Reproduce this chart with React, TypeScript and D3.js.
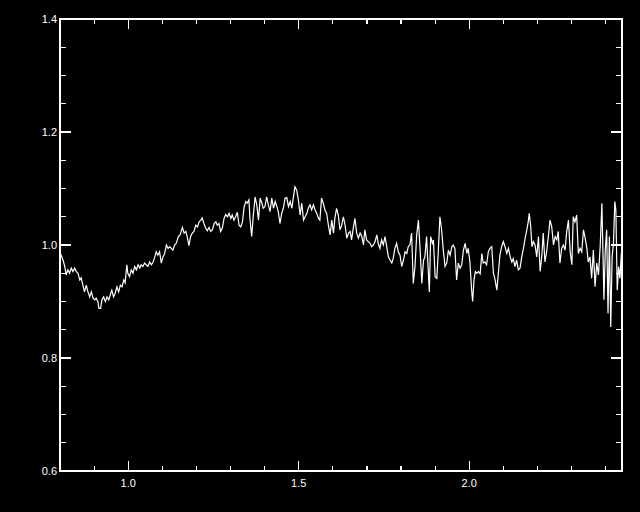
import React from 'react'
import * as d3 from 'd3'

// wavelength (x) and normalised flux (y)
const wave = [
	0.802, 0.809, 0.814, 0.818, 0.823, 0.828, 0.833, 0.838, 0.843, 0.848, 0.853, 0.858, 0.862, 0.867, 0.872, 0.877, 0.882, 0.887, 0.892, 0.897,
	0.902, 0.906, 0.911, 0.914, 0.919, 0.923, 0.928, 0.933, 0.938, 0.943, 0.949, 0.952, 0.957, 0.962, 0.967, 0.972, 0.977, 0.982, 0.987, 0.991,
	0.996, 0.999, 1.004, 1.009, 1.014, 1.019, 1.024, 1.029, 1.034, 1.038, 1.043, 1.048, 1.053, 1.058, 1.063, 1.068, 1.073, 1.078, 1.082, 1.087,
	1.092, 1.097, 1.102, 1.107, 1.112, 1.117, 1.122, 1.126, 1.131, 1.136, 1.141,
	1.147, 1.152, 1.159, 1.164, 1.169, 1.173, 1.178, 1.183, 1.188, 1.193, 1.198, 1.203, 1.208, 1.213, 1.217, 1.222, 1.227, 1.232, 1.237, 1.242,
	1.247, 1.252, 1.257, 1.261, 1.266, 1.271, 1.276, 1.281, 1.286, 1.291, 1.296, 1.301, 1.305, 1.310, 1.315, 1.320, 1.325, 1.330, 1.335, 1.340,
	1.345, 1.349, 1.354, 1.357, 1.362, 1.367, 1.372, 1.377, 1.382, 1.387, 1.392, 1.396, 1.401, 1.406, 1.411, 1.416, 1.421, 1.426, 1.431, 1.436,
	1.440, 1.445, 1.450, 1.455, 1.460,
	1.465, 1.470, 1.475, 1.480, 1.484, 1.489, 1.494, 1.499, 1.504, 1.509, 1.514, 1.519, 1.524, 1.528, 1.533, 1.538, 1.543, 1.548, 1.553, 1.558,
	1.562, 1.567, 1.572, 1.577, 1.582, 1.587, 1.592, 1.597, 1.602, 1.606, 1.611, 1.616, 1.621, 1.626, 1.631, 1.636, 1.641, 1.646, 1.651, 1.655,
	1.660, 1.665, 1.670, 1.675, 1.680, 1.685, 1.690, 1.694, 1.699, 1.704, 1.709, 1.714, 1.719, 1.724, 1.729, 1.733, 1.738, 1.743, 1.748, 1.753,
	1.758, 1.763, 1.768, 1.773, 1.777, 1.782, 1.787, 1.792,
	1.797, 1.802, 1.807, 1.812, 1.817, 1.821, 1.826, 1.831, 1.836, 1.841, 1.846, 1.851, 1.856, 1.861, 1.866, 1.870, 1.875, 1.880, 1.883, 1.887,
	1.892, 1.895, 1.900, 1.905, 1.909, 1.914, 1.919, 1.924, 1.929, 1.934, 1.939, 1.944, 1.949, 1.953, 1.958, 1.963, 1.968, 1.973, 1.978, 1.983,
	1.988, 1.993, 1.997, 2.002, 2.007, 2.010, 2.014, 2.018, 2.022, 2.027, 2.032, 2.037, 2.041, 2.046, 2.051, 2.056, 2.061, 2.066, 2.071, 2.076,
	2.081, 2.085, 2.090, 2.095, 2.100, 2.105, 2.110, 2.115,
	2.120, 2.125, 2.129, 2.134, 2.139, 2.144, 2.149, 2.154, 2.159, 2.164, 2.169, 2.173, 2.176, 2.180, 2.184, 2.188, 2.193, 2.198, 2.203, 2.208,
	2.213, 2.217, 2.222, 2.227, 2.232, 2.237, 2.242, 2.247, 2.252, 2.257, 2.261, 2.266, 2.271, 2.276, 2.281, 2.286, 2.291, 2.296, 2.301, 2.305,
	2.310, 2.315, 2.320, 2.325, 2.330, 2.335, 2.340, 2.345, 2.349, 2.354, 2.359, 2.364, 2.369, 2.374, 2.379, 2.384, 2.389, 2.392, 2.395, 2.399,
	2.403, 2.407, 2.411, 2.415, 2.419, 2.423, 2.427, 2.430, 2.434, 2.438, 2.442, 2.446,
]

const flux = [
	0.984, 0.973, 0.962, 0.947, 0.956, 0.950, 0.959, 0.953, 0.959, 0.953, 0.950, 0.938, 0.942, 0.929, 0.917, 0.929, 0.917, 0.908, 0.917, 0.906,
	0.903, 0.906, 0.900, 0.888, 0.888, 0.903, 0.908, 0.900, 0.908, 0.903, 0.915, 0.920, 0.908, 0.915, 0.926, 0.917, 0.929, 0.926, 0.938, 0.933,
	0.965, 0.950, 0.944, 0.956, 0.950, 0.962, 0.956, 0.965, 0.959, 0.965, 0.962, 0.968, 0.965, 0.962, 0.970, 0.965, 0.970, 0.979, 0.988, 0.982,
	0.988, 0.968, 0.979, 0.985, 1.000, 0.994, 0.997, 0.994, 0.991, 1.000, 1.003,
	1.015, 1.018, 1.031, 1.021, 1.024, 1.015, 0.999, 1.015, 1.021, 1.024, 1.035, 1.032, 1.041, 1.044, 1.048, 1.038, 1.030, 1.025, 1.031, 1.024,
	1.027, 1.038, 1.041, 1.035, 1.038, 1.024, 1.030, 1.047, 1.054, 1.050, 1.056, 1.047, 1.053, 1.044, 1.050, 1.058, 1.035, 1.032, 1.041, 1.068,
	1.077, 1.074, 1.080, 1.047, 1.015, 1.053, 1.085, 1.071, 1.044, 1.083, 1.074, 1.065, 1.068, 1.085, 1.071, 1.059, 1.083, 1.065, 1.077, 1.068,
	1.059, 1.038, 1.056, 1.065, 1.083,
	1.084, 1.068, 1.077, 1.065, 1.083, 1.103, 1.097, 1.080, 1.053, 1.074, 1.044, 1.050, 1.056, 1.065, 1.071, 1.062, 1.071, 1.062, 1.056, 1.047,
	1.044, 1.083, 1.074, 1.062, 1.056, 1.035, 1.018, 1.044, 1.021, 1.047, 1.065, 1.053, 1.027, 1.035, 1.050, 1.035, 1.012, 1.021, 1.024, 1.009,
	1.030, 1.047, 1.021, 1.012, 1.021, 1.015, 1.000, 1.027, 1.009, 1.006, 1.003, 0.997, 1.000, 1.006, 1.018, 1.003, 0.994, 1.009, 1.000, 1.015,
	0.997, 0.979, 0.973, 0.968, 0.976, 0.994, 1.003, 0.988,
	0.982, 0.962, 0.973, 0.988, 0.985, 0.997, 1.000, 1.021, 0.932, 0.962, 1.018, 1.044, 0.991, 0.932, 0.973, 0.979, 1.015, 0.953, 0.917, 1.015,
	1.003, 1.009, 0.944, 0.941, 0.985, 1.050, 1.027, 0.991, 0.962, 0.968, 0.991, 0.982, 0.997, 1.000, 0.994, 0.938, 0.968, 0.959, 0.965, 0.991,
	1.003, 0.985, 0.994, 0.970, 0.920, 0.900, 0.938, 0.953, 0.950, 0.953, 0.949, 0.985, 0.968, 0.970, 0.965, 0.988, 0.994, 0.997, 0.950, 0.938,
	0.920, 0.947, 0.982, 0.997, 1.006, 0.997, 0.985, 0.994,
	0.979, 0.970, 0.976, 0.962, 0.973, 0.956, 0.959, 0.979, 0.994, 1.012, 1.027, 1.041, 1.056, 1.035, 0.997, 1.006, 1.000, 0.979, 1.015, 0.953,
	0.982, 1.021, 0.970, 0.988, 1.015, 1.044, 1.032, 1.000, 1.015, 1.009, 1.024, 0.968, 0.994, 1.000, 0.991, 1.024, 1.044, 0.988, 0.965, 1.050,
	1.041, 1.053, 0.985, 0.994, 0.988, 1.027, 1.012, 0.994, 0.970, 0.979, 0.941, 0.991, 0.926, 0.968, 0.947, 0.997, 1.074, 0.991, 0.903, 0.991,
	1.027, 0.879, 1.015, 0.855, 0.979, 1.003, 1.077, 1.062, 0.920, 0.962, 0.941, 0.985,
]

const xDomain = [0.8, 2.448]
const yDomain = [0.6, 1.4]

const xMajorTicks = [1.0, 1.5, 2.0]
const xMinorTicks = [0.9, 1.1, 1.2, 1.3, 1.4, 1.6, 1.7, 1.8, 1.9, 2.1, 2.2, 2.3, 2.4]
const yMajorTicks = [0.6, 0.8, 1.0, 1.2, 1.4]
const yMinorTicks = [0.65, 0.7, 0.75, 0.85, 0.9, 0.95, 1.05, 1.1, 1.15, 1.25, 1.3, 1.35]

const W = 640
const H = 512
const margin = { top: 19, right: 18, bottom: 41, left: 60 }

export default function App() {
	const x = d3.scaleLinear().domain(xDomain).range([margin.left, W - margin.right])
	const y = d3.scaleLinear().domain(yDomain).range([H - margin.bottom, margin.top])

	const line = d3.line<number>()
		.x((d, i) => x(wave[i]))
		.y(d => y(d))

	const x0 = margin.left
	const x1 = W - margin.right
	const y0 = margin.top
	const y1 = H - margin.bottom
	const fmt = d3.format('.1f')
	const font = '"Liberation Sans", Arial, sans-serif'

	return (
		<svg width={W} height={H} style={{ position: 'absolute', left: 0, top: 0, background: '#000' }}>
			<rect x={0} y={0} width={W} height={H} fill="#000" />
			<defs>
				<clipPath id="plot">
					<rect x={x0} y={y0} width={x1 - x0} height={y1 - y0} />
				</clipPath>
			</defs>

			<path d={line(flux) || ''} fill="none" stroke="#fff" strokeWidth={1.2} clipPath="url(#plot)" />

			<g stroke="#fff" strokeWidth={1.2} shapeRendering="crispEdges">
				<rect x={x0} y={y0} width={x1 - x0} height={y1 - y0} fill="none" />
				{xMajorTicks.map(t => (
					<g key={'xM' + t}>
						<line x1={x(t)} x2={x(t)} y1={y1} y2={y1 - 10} />
						<line x1={x(t)} x2={x(t)} y1={y0} y2={y0 + 10} />
					</g>
				))}
				{xMinorTicks.map(t => (
					<g key={'xm' + t}>
						<line x1={x(t)} x2={x(t)} y1={y1} y2={y1 - 5} />
						<line x1={x(t)} x2={x(t)} y1={y0} y2={y0 + 5} />
					</g>
				))}
				{yMajorTicks.map(t => (
					<g key={'yM' + t}>
						<line x1={x0} x2={x0 + 11} y1={y(t)} y2={y(t)} />
						<line x1={x1} x2={x1 - 11} y1={y(t)} y2={y(t)} />
					</g>
				))}
				{yMinorTicks.map(t => (
					<g key={'ym' + t}>
						<line x1={x0} x2={x0 + 6} y1={y(t)} y2={y(t)} />
						<line x1={x1} x2={x1 - 6} y1={y(t)} y2={y(t)} />
					</g>
				))}
			</g>

			<g fill="#fff" fontFamily={font} fontSize={11}>
				{yMajorTicks.map(t => (
					<text key={'yl' + t} x={x0 - 3} y={y(t) + 4} textAnchor="end">{fmt(t)}</text>
				))}
				{xMajorTicks.map(t => (
					<text key={'xl' + t} x={x(t)} y={y1 + 16} textAnchor="middle">{fmt(t)}</text>
				))}
			</g>
		</svg>
	)
}
